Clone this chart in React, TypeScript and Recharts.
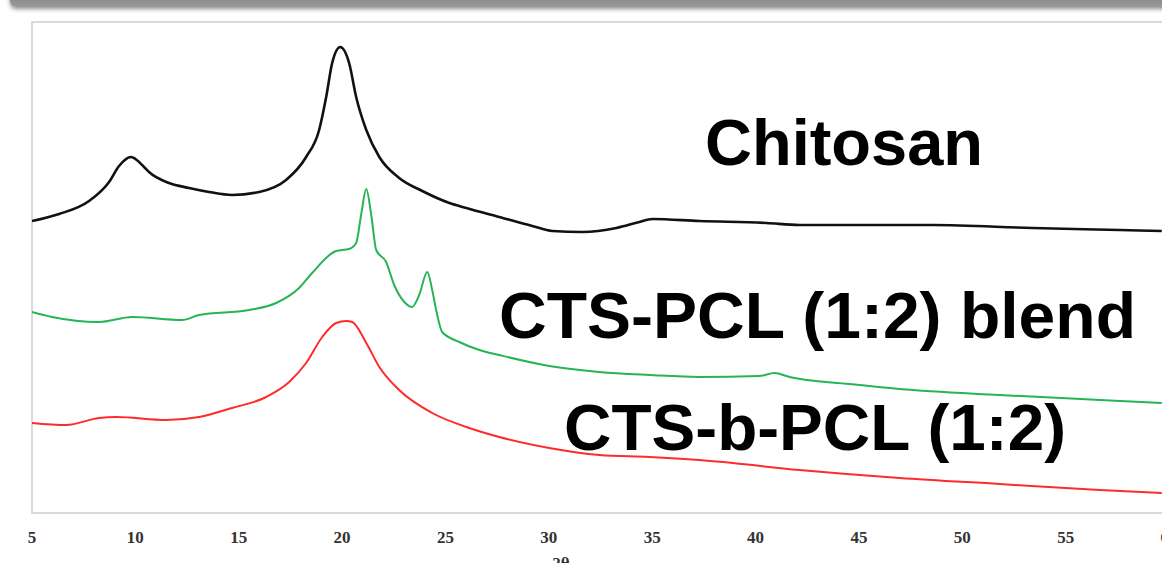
import { LineChart, Line, XAxis, YAxis, ReferenceArea, Customized } from "recharts"

// 2θ positions (deg) and relative intensities
const chitosanTheta = [5.0, 6.31, 7.76, 8.73, 9.21, 9.79, 10.42, 10.66, 11.63, 12.6, 13.57, 14.68, 15.99, 17.29, 18.26, 18.89, 19.23, 19.52, 19.91, 20.34, 20.68, 21.17, 21.8, 22.76, 23.88, 25.19, 26.01, 27.6, 29.2, 30.17, 31.62, 33.27, 34.38, 35.01, 37.28, 40.53, 42.12, 48.56, 53.4, 57.61, 59.65]
const chitosanI = [292, 299, 312, 331, 347, 356, 346, 341, 330, 325, 321, 318, 321, 333, 356, 383, 416, 450, 466, 450, 416, 383, 356, 335, 322, 310, 305, 296, 287, 282, 281, 285, 291, 294, 292, 290, 288, 288, 285, 283, 282]

const blendTheta = [5.0, 5.97, 8.24, 9.84, 12.26, 13.08, 15.5, 16.81, 17.92, 18.55, 19.71, 20.34, 20.68, 20.92, 21.17, 21.41, 21.65, 22.13, 22.52, 23.01, 23.39, 23.73, 24.12, 24.36, 24.55, 24.84, 25.67, 26.64, 27.6, 30.02, 32.44, 34.86, 37.28, 40.19, 40.92, 41.64, 44.55, 46.97, 51.8, 56.65, 59.65]
const blendI = [201, 196, 191, 196, 193, 198, 203, 210, 225, 240, 262, 264, 270, 298, 324, 298, 263, 251, 228, 211, 206, 218, 241, 223, 203, 181, 171, 163, 158, 147, 141, 138, 136, 137, 140, 136, 129, 124, 118, 113, 110]

const blockTheta = [5.0, 6.65, 8.24, 9.07, 11.49, 13.08, 14.68, 16.33, 17.44, 18.26, 19.04, 19.71, 20.2, 20.49, 21.17, 21.8, 22.76, 24.36, 26.01, 27.6, 30.02, 32.44, 34.86, 37.28, 42.12, 46.97, 51.8, 56.65, 59.65]
const blockI = [90, 88, 95, 96, 93, 96, 105, 116, 131, 150, 176, 190, 192, 191, 170, 146, 123, 100, 86, 76, 65, 58, 56, 53, 43, 35, 29, 23, 20]

const xTicks = [5, 10, 15, 20, 25, 30, 35, 40, 45, 50, 55, 60]

const toPoints = (theta: number[], vals: number[]) => theta.map((t, i) => ({ t, v: vals[i] }))

const labelFont = "'Liberation Sans', Arial, sans-serif"
const tickFont = "'Liberation Serif', 'Times New Roman', serif"

const TickLabel = ({ x, payload }: any) => (
  <text x={x} y={543} textAnchor="middle" fontFamily={tickFont} fontWeight="bold" fontSize={17} fill="#333">
    {payload.value}
  </text>
)

const Labels = () => (
  <g fontFamily={labelFont} fontWeight="bold" fontSize={65} fill="#000">
    <text x={705} y={165} textLength={278} lengthAdjust="spacingAndGlyphs">Chitosan</text>
    <text x={499} y={338} textLength={637} lengthAdjust="spacingAndGlyphs">CTS-PCL (1:2) blend</text>
    <text x={564} y={450} textLength={502} lengthAdjust="spacingAndGlyphs">CTS-b-PCL (1:2)</text>
    <text x={561} y={569} textAnchor="middle" fontFamily={tickFont} fontSize={17} fill="#333">2θ</text>
  </g>
)

export default function App() {
  return (
    <div style={{ position: "fixed", left: 0, top: 0, width: 1162, height: 563, overflow: "hidden", background: "#fff" }}>
      <div
        style={{
          position: "absolute",
          left: 10,
          top: -20,
          width: 1200,
          height: 27,
          borderRadius: 6,
          background: "linear-gradient(#6f6f6f, #9a9a9a)",
          boxShadow: "0 2px 4px rgba(0,0,0,0.45)",
        }}
      />
      <LineChart width={1200} height={563} margin={{ top: 22, right: 31, left: 32, bottom: 20 }} style={{ position: "absolute", left: 0, top: 0 }}>
        <XAxis
          dataKey="t"
          type="number"
          domain={[5, 60]}
          ticks={xTicks}
          tickLine={false}
          axisLine={false}
          tick={<TickLabel />}
          height={30}
          allowDataOverflow
        />
        <YAxis type="number" domain={[0, 491]} hide allowDataOverflow />
        <ReferenceArea x1={5} x2={60} y1={0} y2={491} fill="none" stroke="#dadada" strokeWidth={2} />
        <Line data={toPoints(chitosanTheta, chitosanI)} dataKey="v" type="monotone" stroke="#111" strokeWidth={2.6} dot={false} isAnimationActive={false} />
        <Line data={toPoints(blendTheta, blendI)} dataKey="v" type="monotone" stroke="#27b455" strokeWidth={2} dot={false} isAnimationActive={false} />
        <Line data={toPoints(blockTheta, blockI)} dataKey="v" type="monotone" stroke="#ff2b2b" strokeWidth={2} dot={false} isAnimationActive={false} />
        <Customized component={Labels} />
      </LineChart>
    </div>
  )
}
